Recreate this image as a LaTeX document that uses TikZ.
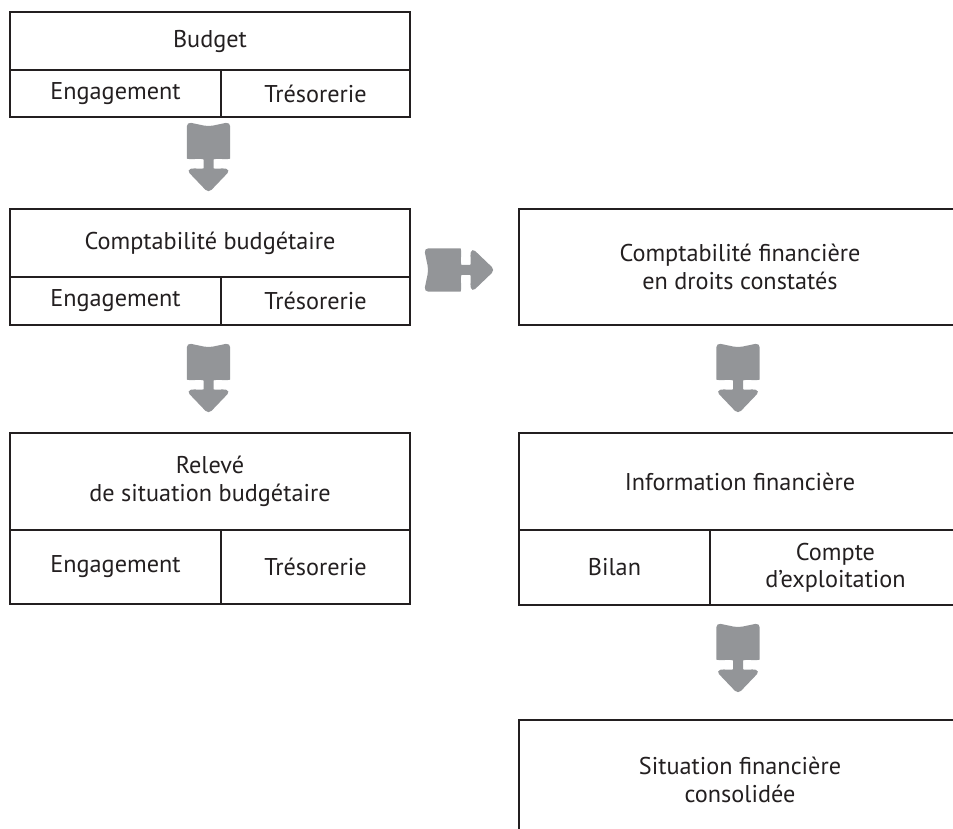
\documentclass[tikz,border=0pt]{standalone}
\usepackage{fontspec}
\setmainfont{PT Sans}
\usetikzlibrary{positioning}

\definecolor{boxline}{HTML}{231F20}
\definecolor{arrowgray}{HTML}{939598}

\tikzset{
  cell/.style={draw=boxline, line width=1.3pt, inner sep=0pt, outer sep=0pt,
    anchor=north west, align=center, text=boxline,
    font=\fontsize{13.8}{15.6}\selectfont},
  % fat grey arrow, pointing down, origin at the middle of its notched back
  flowarrow/.pic={
    \fill[arrowgray, rounded corners=2.5pt]
      (-0.434,0) -- (0,-0.09) -- (0.434,0) -- (0.434,-0.64)
      .. controls (0.434,-0.76) and (0.10,-0.72) .. (0.10,-0.84)
      .. controls (0.10,-0.94) and (0.30,-0.92) .. (0.44,-0.96)
      -- (0,-1.42) -- (-0.44,-0.96)
      .. controls (-0.30,-0.92) and (-0.10,-0.94) .. (-0.10,-0.84)
      .. controls (-0.10,-0.72) and (-0.434,-0.76) .. (-0.434,-0.64) -- cycle;
  }
}

\begin{document}
\begin{tikzpicture}
  \useasboundingbox (0,0) rectangle (19.06,-16.58);
  \clip (0,0) rectangle (19.06,-16.58);

  % left column
  \node[cell, minimum width=8cm, minimum height=1.16cm] (budget) at (0.2,-0.24) {Budget};
  \node[cell, minimum width=4.22cm, minimum height=0.94cm] (bud-eng) at (0.2,-1.40) {Engagement};
  \node[cell, minimum width=3.78cm, minimum height=0.94cm] (bud-tre) at (4.42,-1.40) {Trésorerie};

  \node[cell, minimum width=8cm, minimum height=1.36cm] (cbud) at (0.2,-4.18) {Comptabilité budgétaire};
  \node[cell, minimum width=4.22cm, minimum height=0.96cm] (cbud-eng) at (0.2,-5.54) {Engagement};
  \node[cell, minimum width=3.78cm, minimum height=0.96cm] (cbud-tre) at (4.42,-5.54) {Trésorerie};

  \node[cell, minimum width=8cm, minimum height=1.94cm] (releve) at (0.2,-8.66) {Relevé\\de situation budgétaire};
  \node[cell, minimum width=4.22cm, minimum height=1.48cm] (rel-eng) at (0.2,-10.60) {Engagement};
  \node[cell, minimum width=3.78cm, minimum height=1.48cm] (rel-tre) at (4.42,-10.60) {Trésorerie};

  % right column
  \node[cell, minimum width=8.84cm, minimum height=2.32cm] (cfin) at (10.38,-4.18) {Comptabilité financière\\en droits constatés};

  \node[cell, minimum width=8.84cm, minimum height=1.94cm] (info) at (10.38,-8.66) {Information financière};
  \node[cell, minimum width=3.82cm, minimum height=1.50cm] (bilan) at (10.38,-10.60) {Bilan};
  \node[cell, minimum width=5.02cm, minimum height=1.50cm] (compte) at (14.2,-10.60) {Compte\\d’exploitation};

  \node[cell, minimum width=8.84cm, minimum height=2.40cm] (sitcons) at (10.38,-14.40) {Situation financière\\consolidée};

  % arrows between the boxes
  \pic at (4.17,-2.44) {flowarrow};
  \pic at (4.17,-6.86) {flowarrow};
  \pic[rotate=90] at (8.48,-5.40) {flowarrow};
  \pic at (14.76,-6.86) {flowarrow};
  \pic at (14.76,-12.46) {flowarrow};
\end{tikzpicture}
\end{document}
